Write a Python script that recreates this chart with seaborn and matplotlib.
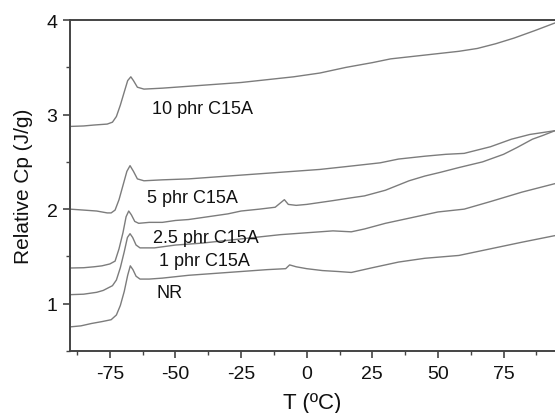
import numpy as np
import pandas as pd
import seaborn as sns
import matplotlib
matplotlib.use("Agg")
import matplotlib.pyplot as plt
from matplotlib.ticker import MultipleLocator

# DSC heat-capacity curves (relative Cp vs temperature) for NR and NR/C15A nanocomposites
nr_T = [-90.2, -86, -82, -78, -74.5, -72.5, -71, -69.5, -68.2, -67.2, -66.2, -65, -63.5,
        -60, -55, -45, -35, -25, -15, -8, -6.5, -4, 0, 6, 12, 17, 25, 35, 45, 58, 70, 82, 94.6]
nr_cp = [0.754, 0.765, 0.79, 0.81, 0.83, 0.88, 0.98, 1.13, 1.30, 1.40, 1.36, 1.29, 1.26,
         1.26, 1.27, 1.30, 1.32, 1.34, 1.36, 1.37, 1.41, 1.39, 1.37, 1.35, 1.34, 1.33, 1.38,
         1.44, 1.48, 1.51, 1.58, 1.65, 1.72]

p1_T = [-90.2, -85, -80, -77.5, -74, -72.5, -71, -69.5, -68.3, -67.3, -66.3, -65, -63.5,
        -58, -50, -40, -30, -20, -10, 0, 10, 17, 22, 30, 40, 50, 60, 70, 82, 94.6]
p1_cp = [1.095, 1.10, 1.12, 1.14, 1.19, 1.25, 1.38, 1.55, 1.70, 1.74, 1.70, 1.62, 1.59,
         1.59, 1.62, 1.64, 1.67, 1.70, 1.73, 1.75, 1.77, 1.76, 1.79, 1.85, 1.91, 1.97,
         2.00, 2.08, 2.18, 2.27]

p25_T = [-90.2, -85, -81, -78, -75, -73, -71.5, -70, -68.8, -67.8, -66.8, -65.5, -64,
         -60, -55, -50, -45, -40, -35, -30, -25, -18, -12, -8.5, -7, -4, 0, 5, 10, 17,
         22, 30, 39, 45, 51, 58, 67, 75, 80, 86, 90, 94.6]
p25_cp = [1.377, 1.38, 1.39, 1.40, 1.42, 1.45, 1.58, 1.75, 1.92, 1.98, 1.94, 1.87, 1.85,
          1.86, 1.86, 1.88, 1.89, 1.91, 1.93, 1.95, 1.98, 2.00, 2.02, 2.10, 2.05, 2.04,
          2.05, 2.07, 2.09, 2.12, 2.14, 2.20, 2.30, 2.35, 2.39, 2.44, 2.50, 2.58, 2.65,
          2.74, 2.78, 2.83]

p5_T = [-90.2, -85, -80, -76, -74.5, -73, -71.5, -70, -68.5, -67.3, -66, -64.5, -62,
        -55, -45, -35, -25, -15, -5, 5, 15, 28, 35, 45, 53, 60, 70, 78, 85, 94.6]
p5_cp = [2.00, 1.99, 1.98, 1.96, 1.96, 1.99, 2.10, 2.25, 2.40, 2.46, 2.40, 2.32, 2.30,
         2.31, 2.32, 2.34, 2.36, 2.38, 2.40, 2.42, 2.45, 2.49, 2.53, 2.56, 2.58, 2.59,
         2.66, 2.74, 2.79, 2.83]

p10_T = [-90.2, -85, -81, -76, -74, -72.5, -71, -69.5, -68.2, -67, -66, -64.5, -62,
         -55, -45, -35, -25, -15, -5, 5, 15, 25, 32, 45, 58, 65, 72, 79, 87, 94.6]
p10_cp = [2.875, 2.88, 2.89, 2.90, 2.92, 2.98, 3.10, 3.24, 3.36, 3.40, 3.36, 3.29, 3.27,
          3.28, 3.30, 3.32, 3.34, 3.37, 3.40, 3.44, 3.50, 3.55, 3.59, 3.63, 3.67, 3.70,
          3.75, 3.81, 3.89, 3.97]

samples = ["NR", "1 phr C15A", "2.5 phr C15A", "5 phr C15A", "10 phr C15A"]
label_T = [-57.2, -56.2, -58.7, -60.8, -59.0]
label_cp = [1.066, 1.404, 1.657, 2.073, 3.02]

frames = []
for name, T, cp in zip(samples,
                       [nr_T, p1_T, p25_T, p5_T, p10_T],
                       [nr_cp, p1_cp, p25_cp, p5_cp, p10_cp]):
    frames.append(pd.DataFrame({"T": T, "Cp": cp, "sample": name}))
df = pd.concat(frames, ignore_index=True)

sns.set_style("ticks")
plt.rcParams["font.family"] = ["Liberation Sans", "DejaVu Sans"]
plt.rcParams["axes.unicode_minus"] = False

fig = plt.figure(figsize=(5.55, 4.14), dpi=100)
ax = fig.add_axes([0.126, 0.150, 0.874, 0.799])

sns.lineplot(data=df, x="T", y="Cp", hue="sample", sort=False, estimator=None,
             palette=["#7c7c7c"] * len(samples), linewidth=1.0, legend=False, ax=ax)

for name, tx, ty in zip(samples, label_T, label_cp):
    ax.text(tx, ty, name, fontsize=13, color="#111111", va="baseline", ha="left")

ax.set_xlim(-90.2, 94.6)
ax.set_ylim(0.5, 4.0)
ax.xaxis.set_major_locator(MultipleLocator(25))
ax.xaxis.set_minor_locator(MultipleLocator(12.5))
ax.yaxis.set_major_locator(MultipleLocator(1))
ax.yaxis.set_minor_locator(MultipleLocator(0.5))
ax.tick_params(which="major", direction="out", length=5, width=1.2, colors="#444444",
               labelsize=14, labelcolor="#111111")
ax.tick_params(axis="x", which="major", pad=5)
ax.tick_params(axis="y", which="major", pad=4)
ax.tick_params(which="minor", direction="out", length=3, width=1.0, colors="#444444")

ax.set_xlabel("T (ºC)", fontsize=16, color="#111111", labelpad=7)
ax.set_ylabel("Relative Cp (J/g)", fontsize=15, color="#111111", labelpad=10)

for side in ["left", "bottom", "top"]:
    ax.spines[side].set_color("#444444")
    ax.spines[side].set_linewidth(1.4)
ax.spines["right"].set_visible(False)

fig.savefig("out.png", dpi=100)
